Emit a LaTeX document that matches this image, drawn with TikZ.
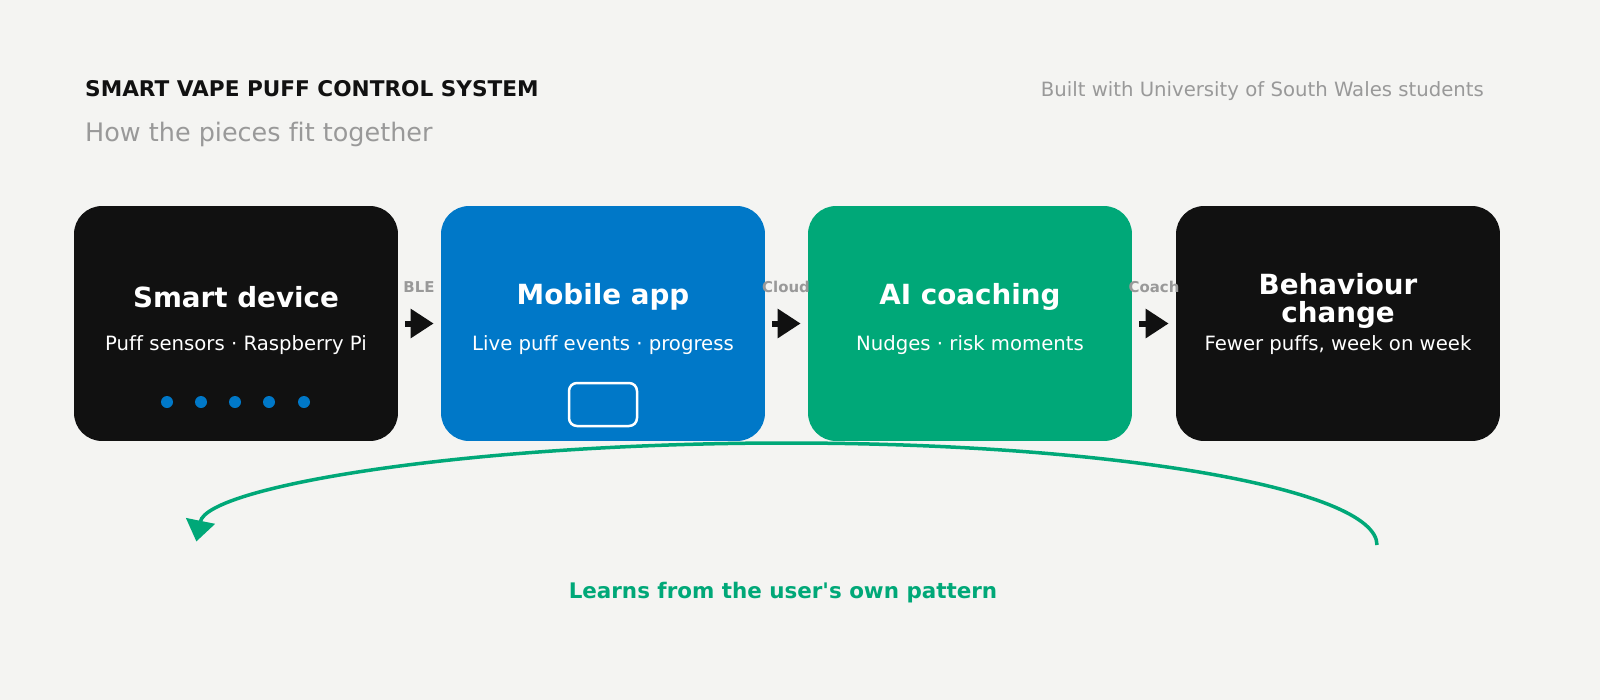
\documentclass[tikz,border=0pt]{standalone}
\usepackage{fontspec}
\setmainfont[Ligatures=NoCommon]{DejaVu Sans}
\usetikzlibrary{arrows.meta}
\definecolor{bgcol}{HTML}{F4F4F2}
\definecolor{inkcol}{HTML}{111111}
\definecolor{appblue}{HTML}{0078C8}
\definecolor{aigreen}{HTML}{00A878}
\definecolor{greytxt}{HTML}{999999}
\newcommand{\fsz}[1]{\fontsize{#1}{#1}\selectfont}
\tikzset{
  stage/.style={rounded corners=0.56cm, minimum width=6.48cm, minimum height=4.7cm, inner sep=0pt, text=white},
  flow/.style={line width=0.12cm, inkcol, -{Triangle[width=0.56cm,length=0.46cm]}, shorten <=0.14cm, shorten >=0.14cm},
  flowlbl/.style={text=greytxt, font=\bfseries\fsz{8.5}},
}
\begin{document}
\begin{tikzpicture}[x=0.02cm,y=-0.02cm]
		\fill[bgcol] (0,0) rectangle (1600,700);
		\useasboundingbox (0,0) rectangle (1600,700);

		% Header
		\node[anchor=base west, text=inkcol, font=\bfseries\fsz{12.3}] (head) at (79,96) {SMART VAPE PUFF CONTROL SYSTEM};
		\node[anchor=base west, text=greytxt, font=\fsz{14.5}] (subhead) at (79,141) {How the pieces fit together};
		\node[anchor=base east, text=greytxt, font=\fsz{11.2}] (note) at (1490,96) {Built with University of South Wales students};

		% Stages
		\node[stage, fill=inkcol] (dev) at (236,323.5) {};
		\node[stage, fill=appblue] (app) at (603,323.5) {};
		\node[stage, fill=aigreen] (ai) at (970,323.5) {};
		\node[stage, fill=inkcol] (beh) at (1338,323.5) {};

		\node[text=white, font=\bfseries\fsz{15.8}] at (236,297) {Smart device};
		\node[text=white, font=\fsz{11.2}] at (236,345) {Puff sensors · Raspberry Pi};
		\node[text=white, font=\bfseries\fsz{15.8}] at (603,297) {Mobile app};
		\node[text=white, font=\fsz{11.2}] at (603,345) {Live puff events · progress};
		\node[text=white, font=\bfseries\fsz{15.8}] at (970,297) {AI coaching};
		\node[text=white, font=\fsz{11.2}] at (970,345) {Nudges · risk moments};
		\node[text=white, font=\bfseries\fsz{15.8}, align=center] at (1338,301) {Behaviour\\change};
		\node[text=white, font=\fsz{11.2}] at (1338,345) {Fewer puffs, week on week};

		% Sensor dots and phone
		\foreach \px in {167,201,235,269,304}
			\fill[appblue] (\px,402) circle (6);
		\draw[white, line width=0.05cm, rounded corners=0.16cm] (569,383) rectangle (637,426);

		% Flow arrows
		\draw[flow] (dev.east) -- (app.west);
		\draw[flow] (app.east) -- (ai.west);
		\draw[flow] (ai.east) -- (beh.west);
		\node[flowlbl] at (419,287) {BLE};
		\node[flowlbl] at (786,287) {Cloud};
		\node[flowlbl] at (1154,287) {Coach};

		% Feedback loop
		\coordinate (loopstart) at (1377,545);
		\coordinate (loopend) at (196,545);
		\draw[aigreen, line width=0.07cm, -{Triangle[width=0.58cm,length=0.42cm]}]
			(loopstart) arc[start angle=0, end angle=-178, x radius=590.5, y radius=102];
		\node[text=aigreen, font=\bfseries\fsz{12.2}] (looplbl) at (783,593) {Learns from the user\textquotesingle s own pattern};
	\end{tikzpicture}
\end{document}
